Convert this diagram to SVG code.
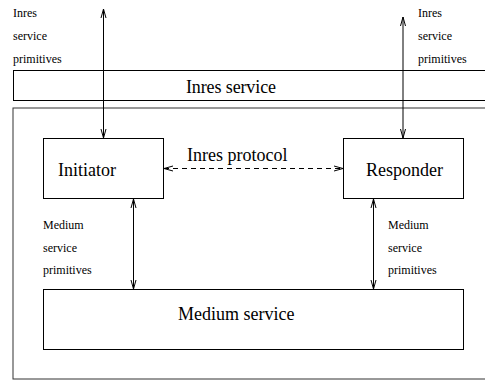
<svg xmlns="http://www.w3.org/2000/svg" width="485" height="381" viewBox="0 0 485 381">
<style>
.box{fill:none;stroke:#000;stroke-width:1}
.outer{fill:none;stroke:#333;stroke-width:1}
.ln{fill:none;stroke:#000;stroke-width:1}
.dash{fill:none;stroke:#000;stroke-width:1;stroke-dasharray:5,4}
text{font-family:"Liberation Serif","Times New Roman",Times,serif;fill:#000}
.big{font-size:18px}
.small{font-size:12px}
</style>
<defs>
<marker id="ah" viewBox="0 0 10 8" refX="9" refY="4" markerWidth="10" markerHeight="8" markerUnits="userSpaceOnUse" orient="auto-start-reverse">
<path d="M0,1.5 L9,4 L0,6.5" fill="none" stroke="#000" stroke-width="1"/>
</marker>
</defs>
<g id="outer-system"><rect class="outer" x="13" y="108" width="500" height="271"/></g>
<g id="inres-service"><rect class="box" x="13.5" y="70.5" width="500" height="30"/><text class="big" x="186" y="93" textLength="90">Inres service</text></g>
<g id="initiator"><rect class="box" x="43.5" y="138.5" width="120" height="60"/><text class="big" x="58" y="176">Initiator</text></g>
<g id="responder"><rect class="box" x="343.5" y="138.5" width="120" height="60"/><text class="big" x="366" y="176">Responder</text></g>
<g id="medium-service"><rect class="box" x="43.5" y="289.5" width="420" height="60"/><text class="big" x="178" y="320">Medium service</text></g>
<g id="connectors">
<line class="ln" x1="103.5" y1="9" x2="103.5" y2="138" marker-start="url(#ah)" marker-end="url(#ah)"/>
<line class="ln" x1="403" y1="17" x2="403" y2="138" marker-start="url(#ah)" marker-end="url(#ah)"/>
<line class="ln" x1="133.5" y1="199" x2="133.5" y2="289" marker-start="url(#ah)" marker-end="url(#ah)"/>
<line class="ln" x1="373.5" y1="199" x2="373.5" y2="289" marker-start="url(#ah)" marker-end="url(#ah)"/>
<line class="dash" x1="164" y1="168.5" x2="343" y2="168.5" marker-start="url(#ah)" marker-end="url(#ah)"/>
</g>
<g id="labels">
<text class="big" x="187" y="161">Inres protocol</text>
<text class="small" x="13" y="17">Inres</text>
<text class="small" x="13" y="40">service</text>
<text class="small" x="13" y="62.5">primitives</text>
<text class="small" x="418" y="17">Inres</text>
<text class="small" x="418" y="40">service</text>
<text class="small" x="418" y="62.5">primitives</text>
<text class="small" x="43" y="229">Medium</text>
<text class="small" x="43" y="252">service</text>
<text class="small" x="43" y="274">primitives</text>
<text class="small" x="388" y="229">Medium</text>
<text class="small" x="388" y="252">service</text>
<text class="small" x="388" y="274">primitives</text>
</g>
</svg>
